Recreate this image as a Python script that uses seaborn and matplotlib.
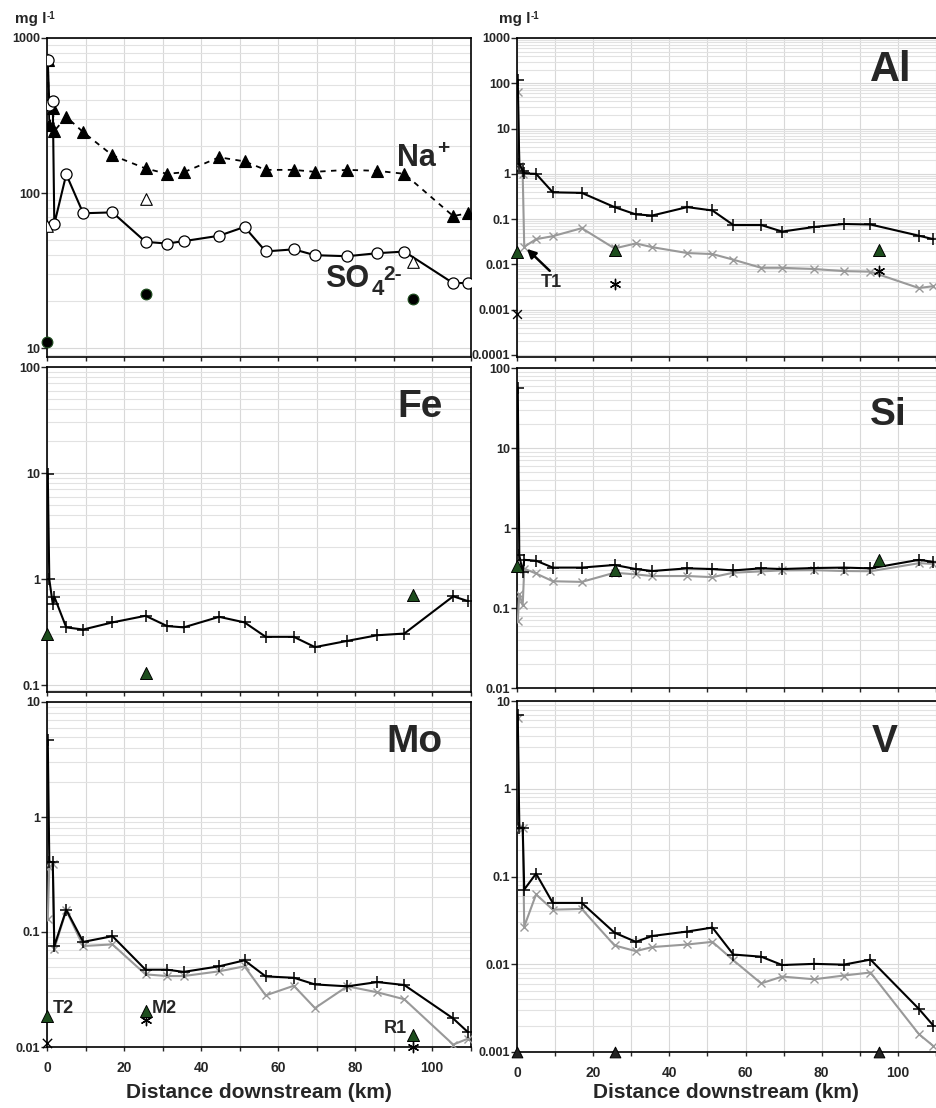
import numpy as np
import matplotlib
matplotlib.use('Agg')
import matplotlib.pyplot as plt
import seaborn as sns
from matplotlib.ticker import LogLocator, FuncFormatter, NullFormatter

# sampling distances (km downstream) and the three reference sites
km = [0.2, 0.6, 1.5, 1.9, 5.0, 9.4, 17.0, 25.6, 31.2, 35.5, 44.7, 51.3,
      56.8, 64.1, 69.6, 78.0, 85.8, 92.8, 105.5, 109.3]
ref_km = [0.0, 25.7, 95.0]

# major ions (mg/l)
na = [718, 274, 355, 251, 310, 247, 175, 144, 133, 136, 170, 160,
      141, 141, 137, 141, 139, 133, 71, 74]
so4 = [718, 369, 391, 63, 132, 74, 75, 48.4, 47.2, 48.9, 53, 60.4,
       42, 43.3, 39.7, 39.1, 40.9, 41.9, 26.2, 26.3]
na_ref = [61.6, 91, 36]
so4_ref = [11.0, 22.4, 20.8]

# trace elements: total (black) and filtered (grey)
al_tot = [120, 1.69, 1.16, 1.02, 1.0, 0.39, 0.38, 0.184, 0.127, 0.12, 0.184, 0.155,
          0.074, 0.074, 0.053, 0.067, 0.078, 0.076, 0.043, 0.036]
al_fil = [64, 1.5, 0.97, 0.0245, 0.036, 0.042, 0.063, 0.0225, 0.029, 0.024, 0.0178, 0.0169,
          0.0127, 0.0084, 0.0084, 0.0079, 0.0071, 0.0069, 0.0030, 0.0033]
al_ref = [0.019, 0.021, 0.021]
al_ref_fil = [0.00079, 0.0036, 0.0072]

fe_tot = [9.8, 0.99, 0.58, 0.68, 0.35, 0.334, 0.39, 0.45, 0.36, 0.35, 0.44, 0.39,
          0.285, 0.285, 0.228, 0.261, 0.295, 0.306, 0.687, 0.62]
fe_ref = [0.306, 0.129, 0.71]

si_tot = [57, 0.46, 0.28, 0.40, 0.39, 0.32, 0.32, 0.345, 0.307, 0.29, 0.313, 0.307,
          0.295, 0.313, 0.307, 0.316, 0.32, 0.313, 0.40, 0.377]
si_fil = [0.068, 0.149, 0.108, 0.31, 0.27, 0.216, 0.212, 0.276, 0.263, 0.251, 0.251, 0.243,
          0.276, 0.287, 0.295, 0.297, 0.29, 0.288, 0.363, 0.356]
si_ref = [0.335, 0.302, 0.40]

mo_tot = [4.64, 0.406, 0.406, 0.0755, 0.156, 0.082, 0.092, 0.047, 0.047, 0.045, 0.0503, 0.0567,
          0.0411, 0.040, 0.035, 0.0337, 0.0367, 0.0346, 0.0177, 0.0135]
mo_fil = [0.13, 0.367, 0.388, 0.0716, 0.154, 0.0755, 0.078, 0.0428, 0.0414, 0.0414, 0.0455, 0.0503,
          0.0281, 0.0341, 0.0218, 0.0337, 0.0299, 0.026, 0.0105, 0.0118]
mo_ref = [0.0186, 0.0204, 0.0126]
mo_ref_fil = [0.0108, 0.0171, 0.0101]

v_tot = [7.0, 0.36, 0.36, 0.071, 0.108, 0.05, 0.05, 0.0229, 0.018, 0.021, 0.0236, 0.0262,
         0.0129, 0.0122, 0.0098, 0.0101, 0.0099, 0.0113, 0.0031, 0.002]
v_fil = [6.4, 0.36, 0.36, 0.0269, 0.0625, 0.0419, 0.0427, 0.0164, 0.0141, 0.0157, 0.0168, 0.018,
         0.0111, 0.00605, 0.00724, 0.00674, 0.00744, 0.00805, 0.0016, 0.00117]
v_ref = [0.001, 0.001, 0.001]

sns.set_style('white')
plt.rcParams['font.family'] = ['Liberation Sans', 'DejaVu Sans']
plt.rcParams['font.weight'] = 'bold'

W, H = 936, 1108
fig = plt.figure(figsize=(W / 100, H / 100), dpi=100)
green = '#1d4d1d'
grey = '#999999'


def ftext(x, y, s, size, va='baseline', ha='left'):
    # text placed in figure pixels (from the top-left corner)
    fig.text(x / W, 1 - y / H, s, fontsize=size, fontweight='bold', ha=ha, va=va)


def make_ax(l, r, t, b, ylim, xmax, bottom_row, right_col):
    ax = fig.add_axes([l / W, 1 - b / H, (r - l) / W, (b - t) / H])
    ax.set_yscale('log')
    ax.set_ylim(*ylim)
    ax.set_xlim(0, xmax)
    ax.yaxis.set_major_locator(LogLocator(base=10, numticks=20))
    ax.yaxis.set_minor_locator(LogLocator(base=10, subs=np.arange(2, 10), numticks=100))
    ax.yaxis.set_major_formatter(FuncFormatter(lambda v, p: '%g' % v))
    ax.yaxis.set_minor_formatter(NullFormatter())
    ax.set_xticks(range(0, 111, 10))
    if bottom_row:
        ax.set_xticklabels([str(v) if v % 20 == 0 and v <= 100 else '' for v in range(0, 111, 10)])
    else:
        ax.set_xticklabels([])
    ax.grid(True, which='major', color='#d8d8d8', lw=0.8)
    ax.grid(True, which='minor', axis='y', color='#e2e2e2', lw=0.8)
    ax.tick_params(axis='y', which='major', direction='out', length=4, width=1, pad=1,
                   labelsize=9, left=True)
    ax.tick_params(axis='y', which='minor', length=0)
    ax.tick_params(axis='x', direction='out', length=3, width=1, pad=7, labelsize=10, bottom=True)
    for s in ax.spines.values():
        s.set_color('black')
        s.set_linewidth(1.2)
    if right_col:
        ax.spines['right'].set_visible(False)
    return ax


def total_line(ax, y):
    sns.lineplot(x=km, y=y, ax=ax, color='black', lw=1.5, marker='+', markersize=8,
                 markeredgecolor='black', markeredgewidth=1.1, sort=False, estimator=None, zorder=4)


def filt_line(ax, y):
    sns.lineplot(x=km, y=y, ax=ax, color=grey, lw=1.5, marker='x', markersize=5.5,
                 markeredgecolor=grey, markeredgewidth=1.0, sort=False, estimator=None, zorder=3)


def ref_tri(ax, y):
    sns.scatterplot(x=ref_km, y=y, ax=ax, marker='^', s=75, color=green, edgecolor='black',
                    linewidth=0.7, zorder=6, clip_on=False)


xl = (471 - 47) / 3.85
xr = (936 - 517) / 3.84

# Major ions
ax1 = make_ax(47, 471, 38, 357, (8.75, 1000), xl, False, False)
sns.lineplot(x=km, y=na, ax=ax1, color='black', lw=1.3, linestyle=(0, (3, 3)), marker='^',
             markersize=8, markerfacecolor='black', markeredgecolor='black', markeredgewidth=0.8,
             sort=False, estimator=None, zorder=4)
sns.lineplot(x=km, y=so4, ax=ax1, color='black', lw=1.5, marker='o', markersize=8,
             markerfacecolor='white', markeredgecolor='black', markeredgewidth=0.9,
             sort=False, estimator=None, zorder=5)
sns.scatterplot(x=ref_km, y=na_ref, ax=ax1, marker='^', s=70, facecolor='white',
                edgecolor='black', linewidth=0.8, zorder=6)
sns.scatterplot(x=ref_km, y=so4_ref, ax=ax1, marker='o', s=60, color='black', edgecolor=green,
                linewidth=0.8, zorder=6, clip_on=False)
ftext(397, 166, 'Na', 22)
ftext(437, 149, '+', 15, va='center')
ftext(325, 287, 'SO', 22)
ftext(372, 295, '4', 16)
ftext(383, 280, '2-', 15)

# Al
ax2 = make_ax(517, 936, 38, 357, (0.00009, 1000), xr, False, True)
total_line(ax2, al_tot)
filt_line(ax2, al_fil)
ref_tri(ax2, al_ref)
sns.scatterplot(x=ref_km[:1], y=al_ref_fil[:1], ax=ax2, marker='x', s=40, color='black',
                linewidth=1.0, zorder=6, clip_on=False)
sns.scatterplot(x=ref_km[1:], y=al_ref_fil[1:], ax=ax2, marker=(6, 2, 0), s=55, color='black',
                linewidth=1.0, zorder=6)
ax2.annotate('', xy=(2.6, 0.022), xytext=(8.6, 0.0072),
             arrowprops=dict(arrowstyle='-|>', color='black', lw=1.8, shrinkA=0, shrinkB=0,
                             mutation_scale=13))
ax2.text(9.1, 0.0039, 'T1', fontsize=13, fontweight='bold', ha='center', va='center')
ax2.text(0.893, 0.90, 'Al', fontsize=30, fontweight='bold', transform=ax2.transAxes,
         ha='center', va='center')

# Fe
ax3 = make_ax(47, 471, 367, 692, (0.086, 100), xl, False, False)
total_line(ax3, fe_tot)
ref_tri(ax3, fe_ref)
ax3.text(0.88, 0.877, 'Fe', transform=ax3.transAxes, fontsize=28, fontweight='bold',
         ha='center', va='center')

# Si
ax4 = make_ax(517, 936, 368, 688, (0.01, 100), xr, False, True)
total_line(ax4, si_tot)
filt_line(ax4, si_fil)
ref_tri(ax4, si_ref)
ax4.text(0.885, 0.853, 'Si', transform=ax4.transAxes, fontsize=28, fontweight='bold',
         ha='center', va='center')

# Mo
ax5 = make_ax(47, 471, 702, 1047, (0.01, 10), xl, True, False)
total_line(ax5, mo_tot)
filt_line(ax5, mo_fil)
ref_tri(ax5, mo_ref)
sns.scatterplot(x=ref_km[:1], y=mo_ref_fil[:1], ax=ax5, marker='x', s=45, color='black',
                linewidth=1.0, zorder=5, clip_on=False)
sns.scatterplot(x=ref_km[1:], y=mo_ref_fil[1:], ax=ax5, marker=(6, 2, 0), s=55, color='black',
                linewidth=1.0, zorder=5, clip_on=False)
ax5.text(1.6, 0.0217, 'T2', fontsize=13, fontweight='bold', ha='left', va='center')
ax5.text(27.3, 0.0217, 'M2', fontsize=13, fontweight='bold', ha='left', va='center')
ax5.text(93.5, 0.0145, 'R1', fontsize=13, fontweight='bold', ha='right', va='center')
ax5.text(0.866, 0.884, 'Mo', transform=ax5.transAxes, fontsize=28, fontweight='bold',
         ha='center', va='center')

# V
ax6 = make_ax(517, 936, 701, 1052, (0.001, 10), xr, True, True)
total_line(ax6, v_tot)
filt_line(ax6, v_fil)
sns.scatterplot(x=ref_km, y=v_ref, ax=ax6, marker='^', s=60, color='#222222', edgecolor='black',
                linewidth=0.7, zorder=6, clip_on=False)
ax6.text(0.878, 0.883, 'V', transform=ax6.transAxes, fontsize=28, fontweight='bold',
         ha='center', va='center')

for ax in [ax1, ax2, ax3, ax4, ax5, ax6]:
    if ax.get_legend() is not None:
        ax.get_legend().remove()
    ax.set_ylabel('')
    ax.set_xlabel('')

ftext(259, 1093, 'Distance downstream (km)', 15, va='center', ha='center')
ftext(726, 1093, 'Distance downstream (km)', 15, va='center', ha='center')

ftext(15, 19, 'mg l', 11, va='center')
ftext(47, 16, '-1', 7, va='center')
ftext(499, 19, 'mg l', 11, va='center')
ftext(531, 16, '-1', 7, va='center')

fig.savefig('out.png', dpi=100)
